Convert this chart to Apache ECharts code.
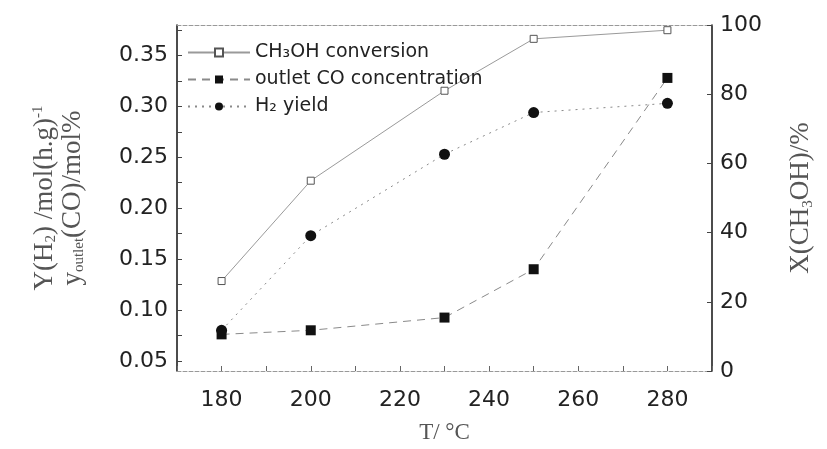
<!DOCTYPE html>
<html>
<head>
<meta charset="utf-8">
<script src="https://cdn.jsdelivr.net/npm/echarts@6/dist/echarts.min.js"></script>
<style>
  html, body { margin: 0; padding: 0; background: #fff; }
  #chart { width: 827px; height: 449px; }
</style>
</head>
<body>
<div id="chart"></div>
<script>
// Reaction temperature (°C)
const temps = [180, 200, 230, 250, 280];
// Methanol conversion, % (right axis)
const conversion = [26, 55, 81, 96, 98.5];
// Outlet CO concentration, mol% (left axis)
const coConc = [0.076, 0.080, 0.0925, 0.140, 0.328];
// H2 yield, mol/(h·g) (left axis)
const h2Yield = [0.080, 0.173, 0.253, 0.294, 0.303];

// Tick labels
const xLabels = [180, 200, 220, 240, 260, 280];
const leftLabels = [0.05, 0.10, 0.15, 0.20, 0.25, 0.30, 0.35];
const leftTicks = [0.05, 0.075, 0.10, 0.125, 0.15, 0.175, 0.20, 0.225, 0.25, 0.275, 0.30, 0.325, 0.35, 0.375];
const rightLabels = [0, 20, 40, 60, 80, 100];

const pair = (ys) => temps.map((t, i) => [t, ys[i]]);

const numFont = 'DejaVu Sans';
const serif = 'Liberation Serif';
const titleColor = '#555';

const chart = echarts.init(document.getElementById('chart'), null, { renderer: 'canvas' });

chart.setOption({
  animation: false,
  backgroundColor: '#fff',
  grid: { left: 177, right: 115, top: 25, bottom: 68, containLabel: false },
  legend: {
    orient: 'vertical',
    left: 182,
    top: 38,
    itemWidth: 62,
    itemHeight: 10,
    itemGap: 8,
    textStyle: { fontFamily: numFont, fontSize: 19, color: '#222' },
    data: ['CH₃OH conversion', 'outlet CO concentration', 'H₂ yield']
  },
  xAxis: [
    {
      type: 'value',
      min: 170,
      max: 290,
      interval: 10,
      name: 'T/ °C',
      nameLocation: 'middle',
      nameGap: 50,
      nameTextStyle: { fontFamily: serif, fontSize: 23, color: titleColor },
      axisLine: { show: true, lineStyle: { color: '#999', width: 1, type: 'dashed' } },
      axisTick: { show: true, inside: true, length: 5, lineStyle: { color: '#666' } },
      axisLabel: {
        margin: 18,
        fontFamily: numFont,
        fontSize: 22,
        color: '#222',
        customValues: xLabels
      },
      splitLine: { show: false }
    },
    {
      type: 'value',
      position: 'top',
      min: 170,
      max: 290,
      axisLine: { show: true, onZero: false, lineStyle: { color: '#999', width: 1, type: 'dashed' } },
      axisTick: { show: false },
      axisLabel: { show: false },
      splitLine: { show: false }
    }
  ],
  yAxis: [
    {
      type: 'value',
      position: 'left',
      min: 0.04,
      max: 0.38,
      name: '{a|Y(H}{s|2}{a|) /mol(h.g)}{p|-1}\n{a|y}{s|outlet}{a|(CO)/mol%}',
      nameLocation: 'middle',
      nameRotate: 90,
      nameGap: 90,
      nameTextStyle: {
        lineHeight: 28,
        rich: {
          a: { fontFamily: serif, fontSize: 27, color: titleColor, lineHeight: 28 },
          s: { fontFamily: serif, fontSize: 15, color: titleColor, verticalAlign: 'bottom', lineHeight: 28 },
          p: { fontFamily: serif, fontSize: 15, color: titleColor, verticalAlign: 'top', lineHeight: 28 }
        }
      },
      axisLine: { show: true, lineStyle: { color: '#111', width: 1.5 } },
      axisTick: { show: true, inside: true, length: 5, customValues: leftTicks, lineStyle: { color: '#444' } },
      axisLabel: {
        margin: 9,
        fontFamily: numFont,
        fontSize: 22,
        color: '#222',
        customValues: leftLabels,
        formatter: (v) => v.toFixed(2)
      },
      splitLine: { show: false }
    },
    {
      type: 'value',
      position: 'right',
      min: 0,
      max: 100,
      interval: 20,
      name: '{a|X(CH}{s|3}{a|OH)/%}',
      nameLocation: 'middle',
      nameRotate: 90,
      nameGap: 74,
      nameTextStyle: {
        rich: {
          a: { fontFamily: serif, fontSize: 27, color: titleColor, lineHeight: 30 },
          s: { fontFamily: serif, fontSize: 15, color: titleColor, verticalAlign: 'bottom', lineHeight: 30 }
        }
      },
      axisLine: { show: true, lineStyle: { color: '#111', width: 1.5 } },
      axisTick: { show: true, inside: true, length: 5, lineStyle: { color: '#444' } },
      axisLabel: {
        margin: 8,
        fontFamily: numFont,
        fontSize: 22,
        color: '#222',
        customValues: rightLabels
      },
      splitLine: { show: false }
    }
  ],
  series: [
    {
      name: 'CH₃OH conversion',
      type: 'line',
      yAxisIndex: 1,
      data: pair(conversion),
      symbol: 'rect',
      symbolSize: 7,
      itemStyle: { color: '#fff', borderColor: '#555', borderWidth: 1 },
      lineStyle: { color: '#9a9a9a', width: 1, type: 'solid' },
      z: 3
    },
    {
      name: 'outlet CO concentration',
      type: 'line',
      yAxisIndex: 0,
      data: pair(coConc),
      symbol: 'rect',
      symbolSize: 10,
      itemStyle: { color: '#111' },
      lineStyle: { color: '#8a8a8a', width: 1, type: [8, 6] },
      z: 4
    },
    {
      name: 'H₂ yield',
      type: 'line',
      yAxisIndex: 0,
      data: pair(h2Yield),
      symbol: 'circle',
      symbolSize: 11,
      itemStyle: { color: '#111' },
      lineStyle: { color: '#8a8a8a', width: 1, type: [2, 5] },
      z: 5
    }
  ]
});
</script>
</body>
</html>
